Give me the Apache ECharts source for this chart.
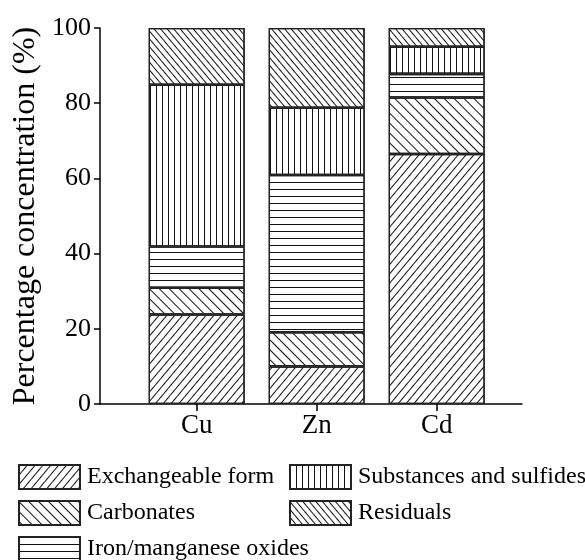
<!DOCTYPE html>
<html>
<head>
<meta charset="utf-8">
<script src="https://cdn.jsdelivr.net/npm/echarts@6/dist/echarts.min.js"></script>
<style>
html,body{margin:0;padding:0;background:#fff;}
#chart{width:585px;height:560px;}
</style>
</head>
<body>
<div id="chart"></div>
<script>
var categories = ['Cu', 'Zn', 'Cd'];
var seriesNames = ['Exchangeable form', 'Carbonates', 'Iron/manganese oxides', 'Substances and sulfides', 'Residuals'];
var exchangeable = [23.8, 10.0, 66.5];
var carbonates = [7.1, 9.1, 15.0];
var ironOxides = [11.0, 41.8, 6.3];
var sulfides = [43.0, 17.9, 7.2];
var residuals = [15.1, 21.2, 5.0];
var yTicks = [0, 20, 40, 60, 80, 100];

var seriesValues = [exchangeable, carbonates, ironOxides, sulfides, residuals];
var decals = [
  {symbol: 'rect', symbolSize: 1, color: '#111', dashArrayX: [1, 0], dashArrayY: [1, 5], rotation: -Math.PI * 50 / 180},
  {symbol: 'rect', symbolSize: 1, color: '#111', dashArrayX: [1, 0], dashArrayY: [1, 6], rotation: Math.PI / 4},
  {symbol: 'rect', symbolSize: 1, color: '#111', dashArrayX: [1, 0], dashArrayY: [1, 6], rotation: 0},
  {symbol: 'rect', symbolSize: 1, color: '#111', dashArrayX: [1, 5], dashArrayY: [1, 0], rotation: 0},
  {symbol: 'rect', symbolSize: 1, color: '#111', dashArrayX: [1, 0], dashArrayY: [1, 4], rotation: Math.PI * 50 / 180}
];

var FONT = '"Liberation Serif", "Times New Roman", Times, serif';
var chart = echarts.init(document.getElementById('chart'), null, {renderer: 'canvas'});

var series = seriesNames.map(function (name, i) {
  return {
    name: name,
    type: 'bar',
    stack: 'total',
    xAxisIndex: 1,
    yAxisIndex: 1,
    barWidth: 96,
    data: seriesValues[i],
    itemStyle: {color: '#fff', borderColor: '#222', borderWidth: 1.3, decal: decals[i]},
    emphasis: {disabled: true}
  };
});

// legend slot positions (left, top) for each series
var legendSlots = [[18, 464], [18, 500], [18, 536], [289, 464], [289, 500]];
var legends = seriesNames.map(function (name, i) {
  return {
    left: legendSlots[i][0],
    top: legendSlots[i][1],
    padding: 0,
    itemWidth: 61,
    itemHeight: 24,
    icon: 'rect',
    selectedMode: false,
    data: [name],
    textStyle: {fontFamily: FONT, fontSize: 24, color: '#000', padding: [0, 0, 0, 2]}
  };
});

var option = {
  animation: false,
  backgroundColor: '#fff',
  legend: legends,
  grid: [
    {left: 100, right: 63, top: 28, bottom: 156, containLabel: false},
    {left: 136.7, right: 88.3, top: 28, bottom: 156, containLabel: false}
  ],
  xAxis: [
    {type: 'value', gridIndex: 0, min: 0, max: 1, axisLine: {show: true, lineStyle: {color: '#000', width: 1.5}},
      axisTick: {show: false}, axisLabel: {show: false}, splitLine: {show: false}},
    {type: 'category', gridIndex: 1, data: categories, axisLine: {show: false},
      axisTick: {show: true, alignWithLabel: true, length: 7, lineStyle: {color: '#000', width: 1.5}},
      axisLabel: {fontFamily: FONT, fontSize: 27, color: '#000', margin: 8}, splitLine: {show: false}}
  ],
  yAxis: [
    {type: 'value', gridIndex: 0, min: yTicks[0], max: yTicks[yTicks.length - 1], interval: yTicks[1] - yTicks[0],
      name: 'Percentage concentration (%)', nameLocation: 'middle', nameGap: 58,
      nameTextStyle: {fontFamily: FONT, fontSize: 32, color: '#000'},
      axisLine: {show: true, lineStyle: {color: '#000', width: 1.5}},
      axisTick: {show: true, length: 6, lineStyle: {color: '#000', width: 1.5}},
      axisLabel: {fontFamily: FONT, fontSize: 26, color: '#000', margin: 9},
      splitLine: {show: false}},
    {type: 'value', gridIndex: 1, min: 0, max: 100, show: false, splitLine: {show: false}}
  ],
  series: series
};
chart.setOption(option);
</script>
</body>
</html>
